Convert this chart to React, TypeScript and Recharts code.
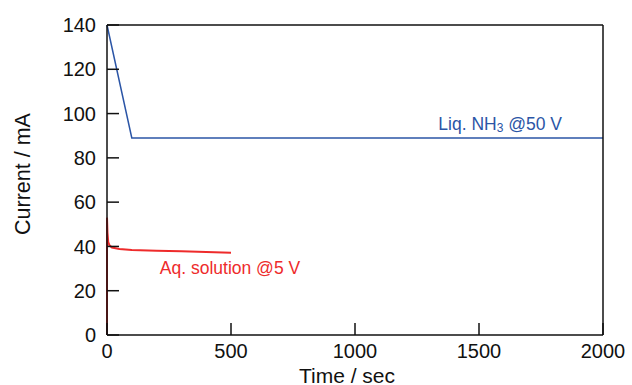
import React from 'react';
import {
  LineChart,
  Line,
  XAxis,
  YAxis,
  ReferenceDot,
} from 'recharts';

// Time (sec) / current (mA)
const liqTime = [0, 100, 2000];
const liqCurrent = [140, 89, 89];

const aqTime = [0, 0, 2, 5, 10, 20, 50, 100, 200, 300, 400, 500];
const aqCurrent = [0, 53, 46, 42, 40.5, 39.5, 38.8, 38.4, 38.1, 37.8, 37.5, 37.2];

const xTicks = [0, 500, 1000, 1500, 2000];
const yTicks = [0, 20, 40, 60, 80, 100, 120, 140];

const BLUE = '#2b55a6';
const RED = '#ee2b2b';
const FONT = '"Liberation Sans", Arial, Helvetica, sans-serif';

const liqData = liqTime.map((t, i) => ({ t, v: liqCurrent[i] }));
const aqData = aqTime.map((t, i) => ({ t, v: aqCurrent[i] }));

const blank = () => '';

const NoteLabel = ({ viewBox, color, main, sub, rest }: any) => (
  <text
    x={viewBox.x}
    y={viewBox.y}
    fill={color}
    fontSize={17.5}
    fontFamily={FONT}
    dominantBaseline="central"
  >
    {main}
    {sub && (
      <tspan fontSize={12} dy={4}>
        {sub}
      </tspan>
    )}
    {sub ? <tspan dy={-4}>{rest}</tspan> : rest}
  </text>
);

const YTitle = () => (
  <text
    x={23}
    y={174}
    transform="rotate(-90, 23, 174)"
    textAnchor="middle"
    dominantBaseline="central"
    fontSize={21.5}
    fontFamily={FONT}
    fill="#111"
  >
    Current / mA
  </text>
);

const XTitle = ({ viewBox }: any) => (
  <text
    x={viewBox.x + viewBox.width / 2 - 8}
    y={375}
    textAnchor="middle"
    dominantBaseline="central"
    fontSize={21}
    fontFamily={FONT}
    fill="#111"
  >
    Time / sec
  </text>
);

export default function App() {
  const axisStyle = { stroke: '#111', strokeWidth: 1.5 };
  const tickStyle = { fill: '#111', fontSize: 20, fontFamily: FONT };
  return (
    <div style={{ position: 'absolute', left: 0, top: 0, background: '#fff' }}>
      <LineChart
        width={632}
        height={385}
        margin={{ top: 24, right: 28, left: 0, bottom: 0 }}
      >
        <XAxis
          xAxisId="b"
          dataKey="t"
          type="number"
          domain={[0, 2000]}
          ticks={xTicks}
          height={50}
          tickSize={-12}
          tickMargin={21}
          axisLine={axisStyle}
          tickLine={axisStyle}
          tick={tickStyle}
          label={<XTitle />}
        />
        <XAxis
          xAxisId="t"
          orientation="top"
          type="number"
          domain={[0, 2000]}
          ticks={xTicks}
          height={1}
          tickSize={-12}
          axisLine={axisStyle}
          tickLine={axisStyle}
          tickFormatter={blank}
        />
        <YAxis
          yAxisId="l"
          type="number"
          domain={[0, 140]}
          ticks={yTicks}
          width={107}
          tickSize={-12}
          tickMargin={23}
          axisLine={axisStyle}
          tickLine={axisStyle}
          tick={tickStyle}
          label={<YTitle />}
        />
        <YAxis
          yAxisId="r"
          orientation="right"
          type="number"
          domain={[0, 140]}
          ticks={yTicks}
          width={1}
          tickSize={-12}
          axisLine={axisStyle}
          tickLine={axisStyle}
          tickFormatter={blank}
        />
        <Line
          xAxisId="b"
          yAxisId="l"
          data={liqData}
          dataKey="v"
          type="linear"
          stroke={BLUE}
          strokeWidth={1.5}
          dot={false}
          isAnimationActive={false}
        />
        <Line
          xAxisId="b"
          yAxisId="l"
          data={aqData}
          dataKey="v"
          type="linear"
          stroke={RED}
          strokeWidth={2}
          dot={false}
          isAnimationActive={false}
        />
        <ReferenceDot
          xAxisId="b"
          yAxisId="l"
          x={1336}
          y={95.3}
          r={0}
          stroke="none"
          label={<NoteLabel color={BLUE} main="Liq. NH" sub="3" rest=" @50 V" />}
        />
        <ReferenceDot
          xAxisId="b"
          yAxisId="l"
          x={213}
          y={30.3}
          r={0}
          stroke="none"
          label={<NoteLabel color={RED} main="Aq. solution @5 V" />}
        />
      </LineChart>
    </div>
  );
}
